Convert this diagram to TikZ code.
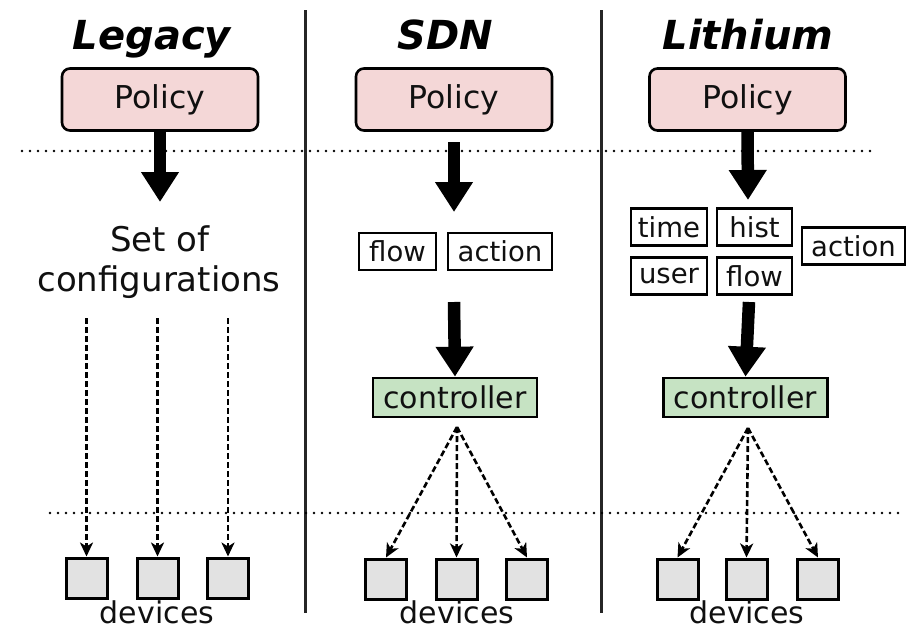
\documentclass[tikz,border=0pt]{standalone}
\usepackage{fontspec}
\setmainfont{DejaVu Sans}
\usetikzlibrary{arrows.meta}
\definecolor{pol}{HTML}{F4D7D7}
\definecolor{ctl}{HTML}{C6E3C3}
\definecolor{dev}{HTML}{E2E2E2}
\definecolor{ink}{HTML}{101010}
\begin{document}
\begin{tikzpicture}[x=1pt,y=-1pt,
 title/.style={font=\fontsize{40}{42}\selectfont\bfseries\itshape, anchor=base, text=black},
 policy/.style={draw, line width=2.6pt, fill=pol, rounded corners=8pt, minimum width=196pt, minimum height=62pt, inner sep=0pt, font=\fontsize{31.5}{36}\selectfont, text=ink},
 tag/.style={draw, line width=2.4pt, fill=white, inner sep=0pt, minimum height=37pt, font=\fontsize{27.5}{30}\selectfont, text=ink},
 ctrl/.style={draw, line width=2.6pt, fill=ctl, inner sep=0pt, minimum width=164pt, minimum height=39pt, font=\fontsize{30}{34}\selectfont, text=ink},
 device/.style={draw, line width=3pt, fill=dev, minimum width=41pt, minimum height=40pt, inner sep=0pt},
 big/.style={line width=12.5pt, -{Triangle[length=30pt,width=36pt]}},
 darrow/.style={line width=2.6pt, dash pattern=on 6pt off 3pt, -{Stealth[length=14pt,width=13pt,inset=4pt]}},
 sepline/.style={line width=3pt, draw=black!85},
 dots/.style={line width=2.8pt, dash pattern=on 0pt off 8pt, line cap=round},
 lbl/.style={font=\fontsize{30}{34}\selectfont, anchor=base, text=ink},
 biglbl/.style={font=\fontsize{34}{38}\selectfont, anchor=base, text=ink}
]
\useasboundingbox (0,0) rectangle (910,629);

% separators
\coordinate (s1t) at (305,10); \coordinate (s1b) at (305,613);
\coordinate (s2t) at (601,10); \coordinate (s2b) at (601,613);
\draw[sepline] (s1t) -- (s1b);
\draw[sepline] (s2t) -- (s2b);

% dotted lines
\coordinate (d1l) at (22,151); \coordinate (d1r) at (870,151);
\coordinate (d2l) at (50,513); \coordinate (d2r) at (902,513);
\draw[dots] (d1l) -- (d1r);
\draw[dots] (d2l) -- (d2r);

% titles
\node[title] (tL) at (152,49) {Legacy};
\node[title] (tS) at (445,49) {SDN};
\node[title] (tT) at (748,49) {Lithium};

% policies
\node[policy] (pL) at (160,99.5) {Policy};
\node[policy] (pS) at (454,99.5) {Policy};
\node[policy] (pT) at (747.5,99.5) {Policy};

% Legacy
\coordinate (aL) at (160,202);
\draw[big] (pL.south) -- (aL);
\node[biglbl] (set1) at (160,251) {Set of};
\node[biglbl] (set2) at (159,291) {configurations};
\node[device] (lv1) at (86.5,578) {};
\node[device] (lv2) at (157.5,578) {};
\node[device] (lv3) at (228,578) {};
\coordinate (lc1) at (86.5,318);
\coordinate (lc2) at (157.5,318);
\coordinate (lc3) at (228,318);
\draw[darrow] (lc1) -- (lv1.north);
\draw[darrow] (lc2) -- (lv2.north);
\draw[darrow] (lc3) -- (lv3.north);
\node[lbl] (devL) at (157,623) {devices};

% SDN
\coordinate (aS0) at (454,142);
\coordinate (aS1) at (454,212);
\draw[big] (aS0) -- (aS1);
\node[tag, minimum width=77pt] (fS) at (397.5,251.5) {flow};
\node[tag, minimum width=104pt] (acS) at (500,251.5) {action};
\coordinate (aS2) at (454,302);
\node[ctrl] (cS) at (455,397.5) {controller};
\draw[big] (aS2) -- (cS.north);
\coordinate (srcS) at (457,427);
\node[device] (sv1) at (386,579) {};
\node[device] (sv2) at (456.5,579) {};
\node[device] (sv3) at (527,579) {};
\draw[darrow] (srcS) -- (sv1.north);
\draw[darrow] (srcS) -- (sv2.north);
\draw[darrow] (srcS) -- (sv3.north);
\node[lbl] (devS) at (457,623) {devices};

% Lithium
\coordinate (aT1) at (748,200);
\draw[big] (pT.south) -- (aT1);
\node[tag, minimum width=76pt] (time) at (669,227) {time};
\node[tag, minimum width=75pt] (hist) at (754.5,227) {hist};
\node[tag, minimum width=76pt] (user) at (669,276) {user};
\node[tag, minimum width=75pt] (flowT) at (754.5,276) {flow};
\node[tag, minimum width=103pt] (acT) at (853.5,246) {action};
\coordinate (aT2) at (749,302);
\node[ctrl] (cT) at (745.5,397.5) {controller};
\draw[big] (aT2) -- (cT.north);
\coordinate (srcT) at (748,428);
\node[device] (tv1) at (677.5,579) {};
\node[device] (tv2) at (746.5,579) {};
\node[device] (tv3) at (818,579) {};
\draw[darrow] (srcT) -- (tv1.north);
\draw[darrow] (srcT) -- (tv2.north);
\draw[darrow] (srcT) -- (tv3.north);
\node[lbl] (devT) at (747,623) {devices};
\end{tikzpicture}
\end{document}
